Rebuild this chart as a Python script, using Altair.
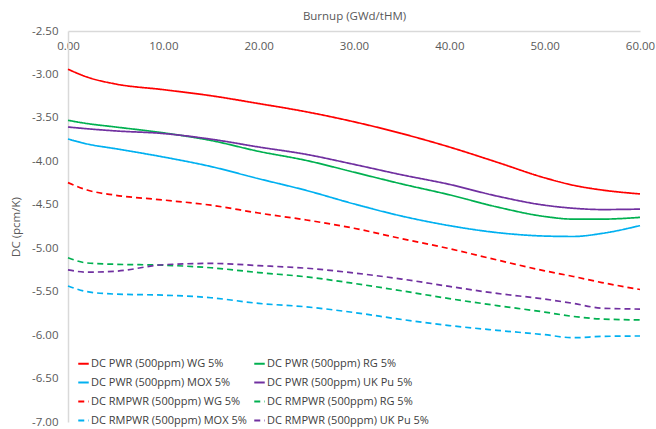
import altair as alt
import pandas as pd

# Burnup steps (GWd/tHM)
burnup = [0, 2, 5, 10, 15, 20, 25, 30, 35, 40, 45, 50, 53, 56, 60]

# Doppler coefficient (pcm/K), PWR (500 ppm)
pwr_wg = [-2.94, -3.03, -3.11, -3.175, -3.245, -3.335, -3.43, -3.545, -3.68, -3.835, -4.01, -4.19, -4.275, -4.33, -4.375]
pwr_rg = [-3.528, -3.565, -3.605, -3.672, -3.76, -3.885, -3.99, -4.125, -4.26, -4.385, -4.525, -4.635, -4.665, -4.665, -4.645]
pwr_mox = [-3.743, -3.80, -3.855, -3.95, -4.06, -4.20, -4.335, -4.49, -4.63, -4.74, -4.82, -4.86, -4.865, -4.83, -4.74]
pwr_ukpu = [-3.605, -3.625, -3.65, -3.68, -3.745, -3.835, -3.92, -4.035, -4.155, -4.265, -4.40, -4.505, -4.54, -4.555, -4.55]

# Doppler coefficient (pcm/K), RMPWR (500 ppm)
rm_wg = [-4.245, -4.33, -4.39, -4.445, -4.505, -4.595, -4.675, -4.77, -4.89, -5.005, -5.135, -5.26, -5.325, -5.395, -5.475]
rm_rg = [-5.11, -5.17, -5.185, -5.195, -5.225, -5.28, -5.33, -5.405, -5.49, -5.58, -5.66, -5.735, -5.785, -5.815, -5.825]
rm_mox = [-5.435, -5.50, -5.528, -5.54, -5.57, -5.635, -5.675, -5.74, -5.82, -5.89, -5.945, -5.995, -6.03, -6.015, -6.01]
rm_ukpu = [-5.25, -5.275, -5.265, -5.19, -5.175, -5.20, -5.23, -5.285, -5.355, -5.44, -5.52, -5.585, -5.635, -5.69, -5.70]

# Ordered so the two-column legend reads WG/RG, MOX/UK Pu per row
series_names = [
    "DC PWR (500ppm) WG 5%",
    "DC PWR (500ppm) MOX 5%",
    "DC RMPWR (500ppm) WG 5%",
    "DC RMPWR (500ppm) MOX 5%",
    "DC PWR (500ppm) RG 5%",
    "DC PWR (500ppm) UK Pu 5%",
    "DC RMPWR (500ppm) RG 5%",
    "DC RMPWR (500ppm) UK Pu 5%",
]
series_values = [pwr_wg, pwr_mox, rm_wg, rm_mox, pwr_rg, pwr_ukpu, rm_rg, rm_ukpu]
series_colors = ["#FF0000", "#00B0F0", "#FF0000", "#00B0F0",
                 "#00B050", "#7030A0", "#00B050", "#7030A0"]
series_dashes = [[1, 0], [1, 0], [6, 4], [6, 4],
                 [1, 0], [1, 0], [6, 4], [6, 4]]

y_ticks = [-7.0, -6.5, -6.0, -5.5, -5.0, -4.5, -4.0, -3.5, -3.0, -2.5]
x_ticks = [0, 10, 20, 30, 40, 50, 60]

rows = []
for name, vals in zip(series_names, series_values):
    for b, v in zip(burnup, vals):
        rows.append({"burnup": b, "dc": v, "series": name})
df = pd.DataFrame(rows)

FONT = "Open Sans"
GREY = "#595959"

legend = alt.Legend(
    title=None,
    orient="none",
    legendX=9,
    legendY=326,
    columns=2,
    columnPadding=3,
    rowPadding=7,
    symbolType="stroke",
    symbolSize=110,
    symbolStrokeWidth=2,
    labelFont=FONT,
    labelFontSize=11,
    labelColor="#404040",
    labelOffset=1,
    labelLimit=300,
    padding=0,
)

chart = alt.Chart(df).mark_line(strokeWidth=1.7, interpolate="monotone").encode(
    x=alt.X(
        "burnup:Q",
        scale=alt.Scale(domain=[0, 60], nice=False),
        axis=alt.Axis(
            orient="top",
            values=x_ticks,
            format=".2f",
            title="Burnup (GWd/tHM)",
            titleY=-10,
            labelBaseline="middle",
            labelPadding=-15,
            labelFlush=False,
            labelOverlap=False,
        ),
    ),
    y=alt.Y(
        "dc:Q",
        scale=alt.Scale(domain=[-7, -2.5], nice=False, zero=False),
        axis=alt.Axis(
            values=y_ticks,
            format=".2f",
            labelExpr="replace(datum.label, '\u2212', '-')",
            title="DC (pcm/K)",
            titleX=-47,
            labelPadding=10,
            labelFlush=False,
            labelOverlap=False,
        ),
    ),
    color=alt.Color("series:N", scale=alt.Scale(domain=series_names, range=series_colors), legend=legend),
    strokeDash=alt.StrokeDash("series:N", scale=alt.Scale(domain=series_names, range=series_dashes), legend=legend),
).properties(
    width=572,
    height=391,
    autosize=alt.AutoSizeParams(type="none"),
    padding={"left": 68, "top": 31, "right": 16, "bottom": 7},
    background="white",
).configure_view(
    stroke=None
).configure_axis(
    grid=False,
    ticks=False,
    tickSize=0,
    domainColor="#D9D9D9",
    domainWidth=1.5,
    labelFont=FONT,
    labelFontSize=11.5,
    labelColor=GREY,
    titleFont=FONT,
    titleFontSize=11.5,
    titleFontWeight="normal",
    titleColor=GREY,
)

chart.save("out.html", embed_options={"renderer": "svg", "actions": False})
